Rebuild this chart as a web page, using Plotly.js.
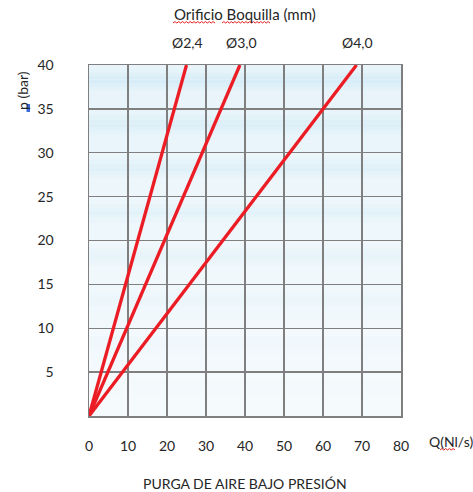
<!DOCTYPE html>
<html><head><meta charset="utf-8">
<script src="https://cdn.plot.ly/plotly-3.0.1.min.js"></script>
<style>body{margin:0;background:#fff}#c{width:473px;height:492px}</style>
</head><body><div id="c"></div>
<script>
// Data
const nozzles = ["Ø2,4", "Ø3,0", "Ø4,0"];
const flowAt0 = [0, 0, 0];
const flowAt40 = [25, 38.7, 68.6];   // Q (Nl/s) reached at 40 bar
const pressure = [0, 40];
const xTicks = [0, 10, 20, 30, 40, 50, 60, 70, 80];
const yTicks = [5, 10, 15, 20, 25, 30, 35, 40];

const FONT = "Lato, 'Open Sans', sans-serif";
const traces = nozzles.map((n, i) => ({
  type: "scatter", mode: "lines", name: n,
  x: [flowAt0[i], flowAt40[i]], y: pressure,
  line: {color: "#ec1c24", width: 3.3}, hoverinfo: "skip", showlegend: false
}));

// background gradient bands
const shapes = [];
const blueC = [214, 236, 247], lightC = [247, 251, 253];
function mix(a, b, t) { return "rgb(" + a.map((v, k) => Math.round(v + (b[k] - v) * t)).join(",") + ")"; }
const steps = 12;
for (let c = 0; c < 8; c++) {
  const y0 = c * 5;
  const strength = 0.12 + 0.88 * (c / 7);
  for (let j = 0; j < steps; j++) {
    const f = (j + 0.5) / steps;
    const d = Math.abs(f - 0.65);
    const prof = Math.max(0.45, 1 - d * 2.0);
    const t = 1 - strength * prof;
    shapes.push({type: "rect", xref: "paper", yref: "y", x0: 0, x1: 1,
      y0: y0 + j * 5 / steps, y1: y0 + (j + 1) * 5 / steps + 0.02,
      fillcolor: mix(blueC, lightC, t), line: {width: 0}, layer: "below"});
  }
}
function squiggle(x0, x1, y, col) {
  let p = "M" + x0 + "," + y; let up = true;
  const step = (x1 - x0) / Math.round((x1 - x0) / 0.006);
  for (let x = x0 + step; x <= x1 + 1e-9; x += step) { p += " L" + x + "," + (y + (up ? 0.004 : 0)); up = !up; }
  return {type: "path", xref: "paper", yref: "paper", path: p, line: {color: col, width: 1}};
}

const W = 473, H = 492, L = 89, R = 72, T = 65, B = 76;
function px(xp) { return (xp - L) / (W - L - R); }
function py(yp) { return 1 - (yp - T) / (H - T - B); }
function ann(text, xp, yp, size, extra) {
  return Object.assign({text: text, xref: "paper", yref: "paper", x: px(xp), y: py(yp), xanchor: "center", yanchor: "middle",
    showarrow: false, font: {size: size, color: "#262626", family: FONT}}, extra || {});
}

const annotations = [
  ann("Orificio Boquilla (mm)", 245, 14, 15),
  ann("p (bar)", 22, 91, 14, {textangle: -90}),
  ann("Q(Nl/s)", 451, 441, 14),
  ann("PURGA DE AIRE BAJO PRESIÓN", 245, 483, 14)
].concat(nozzles.map((n, i) => ({
  text: n, x: flowAt40[i] + 0.3, xref: "x", yref: "paper", y: py(42), xanchor: "center", yanchor: "middle", showarrow: false,
  font: {size: 14, color: "#262626", family: FONT}
})));

shapes.push(squiggle(px(173), px(215), py(23), "#e0201f"));
shapes.push(squiggle(px(222), px(270), py(23), "#e0201f"));
shapes.push(squiggle(px(440), px(455), py(450), "#e0201f"));
shapes.push({type: "rect", xref: "paper", yref: "paper", x0: px(26.5), x1: px(30), y0: py(112), y1: py(104), fillcolor: "#3a6fd8", line: {width: 0}});

const layout = {
  width: W, height: H, margin: {l: L, r: R, t: T, b: B},
  paper_bgcolor: "#fff", plot_bgcolor: "#f4f9fc",
  font: {family: FONT, size: 14, color: "#262626"},
  xaxis: {range: [0, 80], tickvals: xTicks, ticktext: xTicks.map(String), showgrid: true, gridcolor: "#7f7f7f", gridwidth: 1.3,
    zeroline: false, showline: true, linecolor: "#7f7f7f", linewidth: 1.5, mirror: true,
    ticks: "outside", ticklen: 17, tickcolor: "rgba(0,0,0,0)", tickfont: {size: 14}, fixedrange: true},
  yaxis: {range: [0, 40], tickvals: yTicks, ticktext: yTicks.map(String), showgrid: true, gridcolor: "#7f7f7f", gridwidth: 1.3,
    zeroline: false, showline: true, linecolor: "#7f7f7f", linewidth: 1.5, mirror: true,
    ticks: "outside", ticklen: 31, tickcolor: "rgba(0,0,0,0)", tickfont: {size: 14}, fixedrange: true},
  shapes: shapes, annotations: annotations, showlegend: false
};
Plotly.newPlot("c", traces, layout, {displayModeBar: false, staticPlot: true});
</script></body></html>
